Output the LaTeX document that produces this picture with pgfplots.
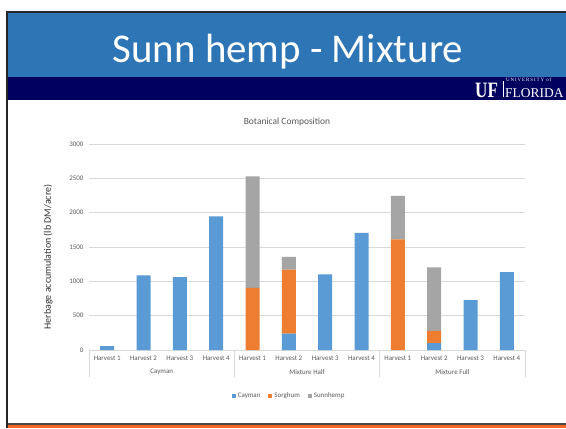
\documentclass[border=0pt]{standalone}
\usepackage{fontspec}
\setmainfont{Carlito}
\newfontfamily\serifuf{Liberation Serif}
\usepackage{pgfplots}
\pgfplotsset{compat=1.18}
\definecolor{banner}{HTML}{2E75B6}
\definecolor{navy}{HTML}{00005E}
\definecolor{cblue}{HTML}{5B9BD5}
\definecolor{corange}{HTML}{ED7D31}
\definecolor{cgray}{HTML}{A5A5A5}
\definecolor{gridc}{HTML}{D9D9D9}
\definecolor{txt}{HTML}{595959}
\definecolor{bline}{HTML}{4A4A4A}
\definecolor{borange}{HTML}{F26522}
\begin{document}
\begin{tikzpicture}[x=1bp,y=1bp]
\useasboundingbox (0,0) rectangle (566,428);
\clip (0,0) rectangle (566,428);
\fill[white] (0,0) rectangle (566,428);
% slide banner
\fill[banner] (7,351) rectangle (566,415);
\fill[navy] (7,328) rectangle (566,351);
\fill[borange] (7,0) rectangle (566,3);
\fill[bline] (7,3) rectangle (566,5);
\draw[black!85,line width=1.6bp] (7,0) -- (7,416) -- (566,416);
\node[anchor=base,text=white,inner sep=0,font=\fontsize{41}{41}\selectfont] at (288,366) {Sunn hemp - Mixture};
% UF logo
\node[anchor=base west,text=white,inner sep=0,xscale=0.78,font=\serifuf\bfseries\fontsize{22}{22}\selectfont] at (475,331) {UF};
\draw[white,line width=0.5bp] (503,331) -- (503,347);
\node[anchor=base west,text=white,inner sep=0,font=\serifuf\addfontfeature{LetterSpace=18}\fontsize{5}{5}\selectfont] at (506,346.5) {UNIVERSITY of};
\node[anchor=base west,text=white,inner sep=0,font=\serifuf\fontsize{13.5}{13.5}\selectfont] at (505,331) {FLORIDA};
% chart title and y label
\node[font=\fontsize{9.5}{9.5}\selectfont,text=txt] at (287,306) {Botanical Composition};
\node[rotate=90,font=\fontsize{10}{10}\selectfont,text=black!80] at (48,171) {Herbage accumulation (lb DM/acre)};
\begin{axis}[
  at={(89bp,78bp)}, anchor=south west,
  scale only axis, width=436bp, height=206bp,
  ybar stacked, bar width=14bp,
  xmin=-0.5, xmax=11.5, ymin=0, ymax=3000,
  enlargelimits=false, clip=false,
  ytick={0,500,...,3000},
  xtick={0,...,11},
  xticklabels={Harvest 1,Harvest 2,Harvest 3,Harvest 4,Harvest 1,Harvest 2,Harvest 3,Harvest 4,Harvest 1,Harvest 2,Harvest 3,Harvest 4},
  /pgf/number format/.cd, 1000 sep={}, assume math mode=true, /pgfplots/.cd,
  axis lines*=left,
  y axis line style={draw=none},
  x axis line style={draw=gridc,line width=0.75bp},
  major tick length=0pt,
  ymajorgrids, grid style={draw=gridc,line width=0.75bp},
  yticklabel style={font=\fontsize{7}{7}\selectfont,text=txt,xshift=-2bp},
  xticklabel style={font=\fontsize{7}{7}\selectfont,text=txt,yshift=-2bp},
  legend style={at={(0.459,-0.223)}, anchor=center, draw=none, fill=none,
    legend columns=3, font=\fontsize{7}{7}\selectfont, text=txt,
    /tikz/every even column/.append style={column sep=6bp}},
  legend image code/.code={\fill[#1] (0bp,-2bp) rectangle (4bp,2bp);},
]
\addplot[fill=cblue,draw=none] coordinates {(0,55) (1,1085) (2,1060) (3,1945) (4,0) (5,240) (6,1100) (7,1705) (8,0) (9,100) (10,725) (11,1135)};
\addplot[fill=corange,draw=none] coordinates {(0,0) (1,0) (2,0) (3,0) (4,905) (5,930) (6,0) (7,0) (8,1610) (9,180) (10,0) (11,0)};
\addplot[fill=cgray,draw=none] coordinates {(0,0) (1,0) (2,0) (3,0) (4,1625) (5,185) (6,0) (7,0) (8,635) (9,925) (10,0) (11,0)};
\legend{Cayman,Sorghum,Sunnhemp}
\draw[gridc,line width=0.75bp] (axis cs:-0.5,0) -- ++(0bp,-27bp);
\draw[gridc,line width=0.75bp] (axis cs:3.5,0) -- ++(0bp,-27bp);
\draw[gridc,line width=0.75bp] (axis cs:7.5,0) -- ++(0bp,-27bp);
\draw[gridc,line width=0.75bp] (axis cs:11.5,0) -- ++(0bp,-27bp);
\node[font=\fontsize{7}{7}\selectfont,text=txt] at ([yshift=-22bp]axis cs:1.5,0) {Cayman};
\node[font=\fontsize{7}{7}\selectfont,text=txt] at ([yshift=-22bp]axis cs:5.5,0) {Mixture Half};
\node[font=\fontsize{7}{7}\selectfont,text=txt] at ([yshift=-22bp]axis cs:9.5,0) {Mixture Full};
\end{axis}
\end{tikzpicture}
\end{document}
